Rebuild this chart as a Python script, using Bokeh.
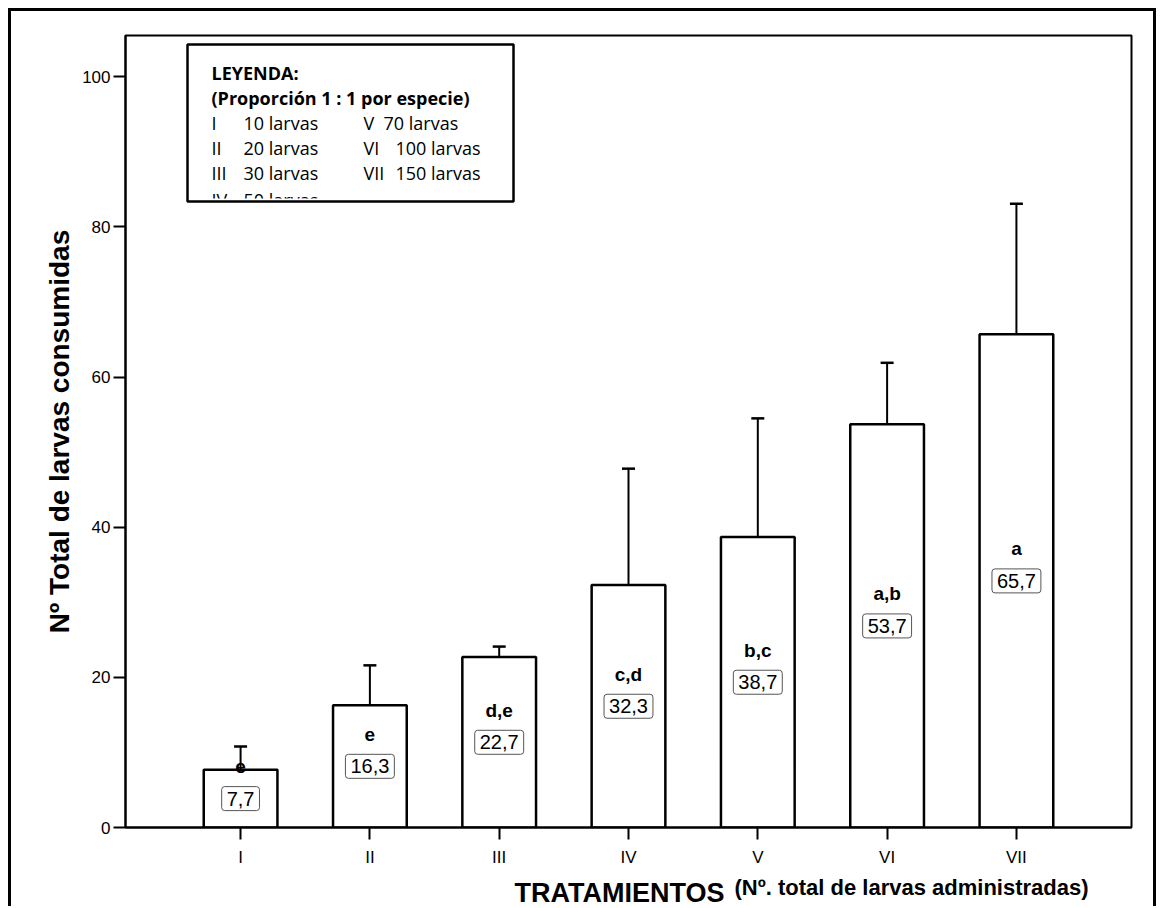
from bokeh.plotting import figure
from bokeh.layouts import column
from bokeh.models import (FactorRange, Range1d, ColumnDataSource, Whisker, TeeHead,
                          FixedTicker, Label, BoxAnnotation)
from bokeh.embed import file_html
from bokeh.resources import INLINE
from bokeh.core.properties import value

# ---- data ----
cats = ["I", "II", "III", "IV", "V", "VI", "VII"]
means = [7.7, 16.3, 22.7, 32.3, 38.7, 53.7, 65.7]
sd = [3.1, 5.3, 1.4, 15.5, 15.8, 8.2, 17.4]
letters = ["e", "e", "d,e", "c,d", "b,c", "a,b", "a"]
y_ticks = [0, 20, 40, 60, 80, 100]
legend_title = "LEYENDA:"
legend_sub = "(Proporción 1 : 1 por especie)"
legend_col1 = [("I", "10 larvas"), ("II", "20 larvas"), ("III", "30 larvas"), ("IV", "50 larvas")]
legend_col2 = [("V", "70 larvas"), ("VI", "100 larvas"), ("VII", "150 larvas")]
y_title = "Nº Total de larvas consumidas"
x_title = "TRATAMIENTOS"
x_subtitle = "(Nº. total de larvas administradas)"

src = ColumnDataSource(dict(
    x=cats,
    top=means,
    upper=[m + s for m, s in zip(means, sd)],
    mid=[m / 2 for m in means],
    lab=[f"{m:.1f}".replace(".", ",") for m in means],
    let=letters,
))

FONT = "Liberation Sans"
LFONT = "Open Sans"
W = 1142
MBL, MBR = 114, 22

p = figure(
    x_range=FactorRange(*cats, range_padding=0.39, range_padding_units="absolute"),
    y_range=Range1d(0, 105.5),
    width=W, height=858, title=None,
    output_backend="svg", toolbar_location=None,
    min_border_left=MBL, min_border_top=24, min_border_right=MBR, min_border_bottom=40,
)

p.xgrid.grid_line_color = None
p.ygrid.grid_line_color = None
p.outline_line_color = "black"
p.outline_line_width = 2
p.background_fill_color = "white"
p.border_fill_color = "white"

# bars
p.vbar(x="x", top="top", width=0.57, source=src, fill_color="white",
       line_color="black", line_width=2.5)

# error bars (upper only)
p.add_layout(Whisker(source=src, base="x", upper="upper", lower="top",
                     line_color="black", line_width=2,
                     upper_head=TeeHead(size=13, line_width=2.5, line_color="black"),
                     lower_head=None))

# value boxes
p.text(x="x", y="mid", text="lab", source=src,
       text_font=value(FONT), text_font_size="20px", text_color="black",
       text_align="center", text_baseline="middle",
       padding=5, border_radius=3, border_line_color="#555", border_line_width=1,
       background_fill_color="white")

# significance letters
p.text(x="x", y="mid", text="let", source=src, y_offset=-32,
       text_font=value(FONT), text_font_size="19px", text_font_style="bold",
       text_color="black", text_align="center", text_baseline="middle")

# axes
for ax in (p.xaxis, p.yaxis):
    ax.axis_line_width = 2
    ax.axis_line_color = "black"
    ax.major_tick_line_width = 2
    ax.major_tick_line_color = "black"
    ax.major_tick_out = 12
    ax.major_tick_in = 0
    ax.minor_tick_line_color = None
    ax.major_label_text_font = FONT
    ax.major_label_text_font_size = "17px"
    ax.major_label_text_color = "black"

p.yaxis.ticker = FixedTicker(ticks=y_ticks)
p.yaxis.major_label_standoff = 3
p.yaxis.axis_label = y_title
p.yaxis.axis_label_text_font = FONT
p.yaxis.axis_label_text_font_size = "28px"
p.yaxis.axis_label_text_font_style = "bold"
p.yaxis.axis_label_text_color = "black"
p.yaxis.axis_label_standoff = 4

p.xaxis.major_label_standoff = 8

# legend box (screen units relative to frame)
def box(**kw):
    return BoxAnnotation(left_units="screen", right_units="screen",
                         top_units="screen", bottom_units="screen", **kw)

p.add_layout(box(left=62, right=388, top=783, bottom=626,
                 fill_color="white", fill_alpha=1.0, line_alpha=0.0))

def lab(x, y, text, bold=False):
    p.add_layout(Label(x=x, y=y, x_units="screen", y_units="screen", text=text,
                       text_font=LFONT, text_font_size="18px",
                       text_font_style="bold" if bold else "normal",
                       text_color="black", text_baseline="middle"))

lab(86, 755, legend_title, True)
lab(86, 730, legend_sub, True)
row_y = [705, 680, 655, 628]
for i, (num, txt) in enumerate(legend_col1):
    lab(86, row_y[i], num)
    lab(118, row_y[i], txt)
col2_x = [258, 270, 270]
for i, (num, txt) in enumerate(legend_col2):
    lab(238, row_y[i], num)
    lab(col2_x[i], row_y[i], txt)
# cover the cut-off last row
p.add_layout(box(left=60, right=390, top=629, bottom=600,
                 fill_color="white", fill_alpha=1.0, line_alpha=0.0))
p.add_layout(box(left=62, right=388, top=783, bottom=626,
                 fill_alpha=0.0, line_color="black", line_alpha=1.0, line_width=2.5))

# x-axis title strip (its ranges are expressed in page pixels)
TOP2, BOT2 = 869, 906
p2 = figure(width=W, height=BOT2 - TOP2, title=None,
            x_range=Range1d(125, 1131), y_range=Range1d(BOT2, TOP2),
            x_axis_type=None, y_axis_type=None,
            min_border_left=MBL, min_border_right=MBR, min_border_top=0, min_border_bottom=0,
            output_backend="svg", toolbar_location=None)
p2.outline_line_color = None
p2.xgrid.grid_line_color = None
p2.ygrid.grid_line_color = None
p2.text(x=[514], y=[892], text=[x_title], text_font=value(FONT), text_font_size="27px",
        text_font_style="bold", text_color="black", text_baseline="alphabetic")
p2.text(x=[734], y=[887], text=[x_subtitle], text_font=value(FONT), text_font_size="22px",
        text_font_style="bold", text_color="black", text_baseline="alphabetic")

layout = column(p, p2, spacing=0, styles={
    "margin-left": "8px", "margin-top": "8px", "box-sizing": "content-box",
    "border-left": "3px solid black", "border-top": "3px solid black",
    "border-right": "3px solid black",
})

open("out.html", "w").write(file_html(layout, INLINE))
